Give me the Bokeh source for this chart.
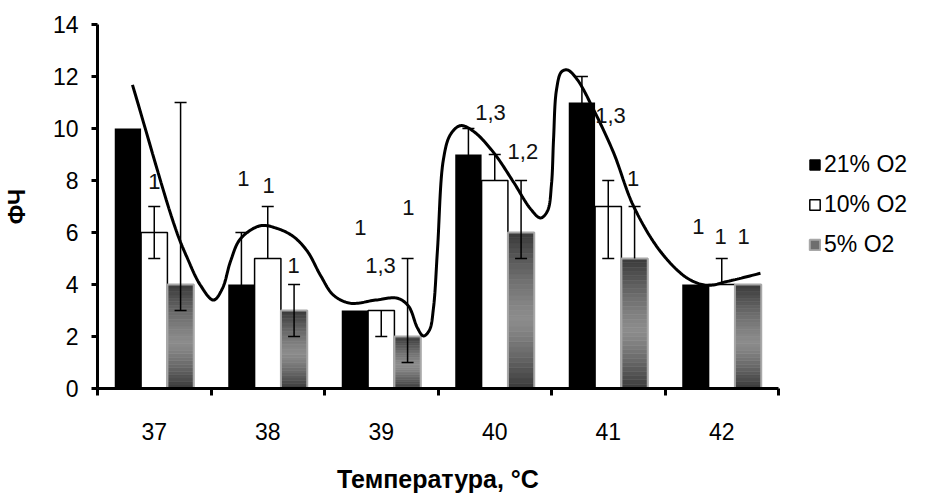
import numpy as np
from bokeh.plotting import figure
from bokeh.layouts import row
from bokeh.models import (FixedTicker, Legend, LegendItem, ColumnDataSource, Range1d)
from bokeh.core.properties import value
from bokeh.embed import file_html
from bokeh.resources import INLINE

# ---------------- data ----------------
categories = ["37", "38", "39", "40", "41", "42"]
series_names = ["21% O2", "10% O2", "5% O2"]
o2_21 = [10, 4, 3, 9, 11, 4]
o2_10 = [6, 5, 3, 8, 7, 4]
o2_5 = [4, 3, 2, 6, 5, 4]

# error bars (plus / minus)
err21_up = [0, 2, 0, 1, 1, 0]
err21_dn = [0, 2, 0, 1, 1, 0]
err10_up = [1, 2, 0, 1, 1, 1]
err10_dn = [1, 0, 1, 0, 2, 0]
err5_up = [7, 1, 3, 2, 2, 0]
err5_dn = [1, 1, 1, 1, 0, 0]

# significance labels (x in category units, y in ФЧ units)
lab_text = ["1", "1", "1", "1", "1", "1,3", "1", "1,3", "1,2", "1,3", "1", "1", "1", "1"]
lab_x = [0.50, 1.286, 1.507, 1.727, 2.317, 2.493, 2.740, 3.463, 3.748, 4.52, 4.72, 5.295, 5.489, 5.692]
lab_y = [7.98, 8.09, 7.79, 4.73, 6.21, 4.73, 6.98, 10.62, 9.10, 10.50, 8.08, 6.22, 5.84, 5.84]

# hand-drawn trend curve
curve_x = [0.308, 0.687, 0.793, 0.907, 1.022, 1.101, 1.172, 1.260, 1.436, 1.586, 1.727, 1.850,
           1.965, 2.079, 2.229, 2.449, 2.643, 2.740, 2.819, 2.872, 2.925, 2.960, 2.996, 3.048,
           3.110, 3.198, 3.313, 3.489, 3.665, 3.815, 3.903, 3.965, 4.000, 4.018, 4.044, 4.088,
           4.141, 4.229, 4.370, 4.546, 4.722, 4.960, 5.198, 5.374, 5.551, 5.841]
curve_y = [11.68, 6.15, 5.00, 3.97, 3.40, 3.85, 4.89, 5.76, 6.26, 6.15, 5.84, 5.27,
           4.35, 3.59, 3.28, 3.40, 3.47, 3.17, 2.33, 2.02, 2.25, 3.09, 5.38, 8.82,
           9.77, 10.11, 9.89, 9.08, 7.94, 6.91, 6.56, 6.83, 7.86, 9.58, 11.49, 12.18,
           12.25, 11.87, 10.73, 9.08, 7.02, 5.27, 4.24, 3.97, 4.12, 4.43]

y_ticks = [0, 2, 4, 6, 8, 10, 12, 14]

FONT = "Liberation Sans"
H = 495

# ---------------- main figure ----------------
p = figure(width=785, height=H, output_backend="svg", toolbar_location=None,
           x_range=Range1d(0, 6), y_range=Range1d(0, 14),
           min_border_left=97, min_border_right=7, min_border_top=24, min_border_bottom=104)
p.outline_line_color = None
p.xgrid.visible = False
p.ygrid.visible = False
p.background_fill_color = "white"

n = len(categories)
centers = np.arange(n) + 0.5
bw = 0.232

# black bars
p.vbar(x=centers - bw, top=o2_21, width=bw, bottom=0, fill_color="black", line_color=None)
# white bars
p.vbar(x=centers, top=o2_10, width=bw, bottom=0, fill_color="white", line_color="black", line_width=1.5)

# gray gradient bars (slices)
N = 30
def gray_at(t):
    peak = 0.45
    d = abs(t - peak) / (peak if t < peak else 1 - peak)
    lo, hi = 0x3a, 0x8c
    v = int(hi - (hi - lo) * d ** 1.3)
    return "#%02x%02x%02x" % (v, v, v)

gx, gb, gt, gc = [], [], [], []
for c, h in zip(centers, o2_5):
    for k in range(N):
        gx.append(c + bw)
        gb.append(h * k / N)
        gt.append(h * (k + 1) / N)
        gc.append(gray_at((k + 0.5) / N))
p.vbar(x=gx, bottom=gb, top=gt, width=bw, fill_color=gc, line_color=gc, line_width=0.6)
p.vbar(x=centers + bw, top=o2_5, width=bw, bottom=0, fill_alpha=0, line_color="#a8a8a8", line_width=2)

# error bars
def draw_err(xs, vals, ups, dns):
    x0, y0, y1 = [], [], []
    cx, cy = [], []
    for x, v, u, d in zip(xs, vals, ups, dns):
        if u == 0 and d == 0:
            continue
        x0.append(x); y0.append(v - d); y1.append(v + u)
        if u > 0:
            cx.append(x); cy.append(v + u)
        if d > 0:
            cx.append(x); cy.append(v - d)
    p.segment(x0=x0, x1=x0, y0=y0, y1=y1, line_color="black", line_width=1.5)
    p.scatter(x=cx, y=cy, marker="dash", size=12, line_color="black", line_width=1.5)

draw_err(centers - bw, o2_21, err21_up, err21_dn)
draw_err(centers, o2_10, err10_up, err10_dn)
draw_err(centers + bw, o2_5, err5_up, err5_dn)

# smooth curve (centripetal Catmull-Rom through read points)
def catmull_rom(xs, ys, sx=4.33, n_seg=16, alpha=0.5):
    P = np.column_stack([np.asarray(xs) * sx, np.asarray(ys)])
    P = np.vstack([2 * P[0] - P[1], P, 2 * P[-1] - P[-2]])
    out = []
    for i in range(1, len(P) - 2):
        P0, P1, P2, P3 = P[i - 1], P[i], P[i + 1], P[i + 2]
        def tj(ti, a, b):
            return ti + max(np.linalg.norm(b - a), 1e-6) ** alpha
        t0 = 0.0
        t1 = tj(t0, P0, P1)
        t2 = tj(t1, P1, P2)
        t3 = tj(t2, P2, P3)
        t = np.linspace(t1, t2, n_seg, endpoint=False)[:, None]
        A1 = (t1 - t) / (t1 - t0) * P0 + (t - t0) / (t1 - t0) * P1
        A2 = (t2 - t) / (t2 - t1) * P1 + (t - t1) / (t2 - t1) * P2
        A3 = (t3 - t) / (t3 - t2) * P2 + (t - t2) / (t3 - t2) * P3
        B1 = (t2 - t) / (t2 - t0) * A1 + (t - t0) / (t2 - t0) * A2
        B2 = (t3 - t) / (t3 - t1) * A2 + (t - t1) / (t3 - t1) * A3
        C = (t2 - t) / (t2 - t1) * B1 + (t - t1) / (t2 - t1) * B2
        out.append(C)
    out.append(P[-2][None, :])
    R = np.vstack(out)
    return R[:, 0] / sx, R[:, 1]

cx_s, cy_s = catmull_rom(curve_x, curve_y)
p.line(cx_s, cy_s, line_color="black", line_width=3)

# significance labels
p.text(x=lab_x, y=lab_y, text=lab_text, text_align="center", text_baseline="middle",
       text_font=value(FONT), text_font_size="22px", text_color="#111111")

# ---------------- axes ----------------
xa = p.xaxis[0]
xa.ticker = FixedTicker(ticks=list(centers), minor_ticks=list(range(0, n + 1)))
xa.major_label_overrides = {float(c): lab for c, lab in zip(centers, categories)}
xa.major_tick_out = 0
xa.major_tick_in = 0
xa.minor_tick_out = 7
xa.minor_tick_in = 0
xa.minor_tick_line_width = 3
xa.minor_tick_line_color = "black"
xa.axis_line_width = 3
xa.axis_line_color = "black"
xa.major_label_text_font = FONT
xa.major_label_text_font_size = "23px"
xa.major_label_text_color = "black"
xa.major_label_standoff = 27
xa.axis_label = "Температура, °C"
xa.axis_label_text_font = FONT
xa.axis_label_text_font_style = "bold"
xa.axis_label_text_font_size = "25px"
xa.axis_label_text_color = "black"
xa.axis_label_standoff = 22

ya = p.yaxis[0]
ya.ticker = FixedTicker(ticks=y_ticks, minor_ticks=[])
ya.major_tick_out = 6
ya.major_tick_in = 0
ya.major_tick_line_width = 3
ya.major_tick_line_color = "black"
ya.minor_tick_out = 0
ya.minor_tick_in = 0
ya.axis_line_width = 3
ya.axis_line_color = "black"
ya.major_label_text_font = FONT
ya.major_label_text_font_size = "23px"
ya.major_label_text_color = "black"
ya.major_label_standoff = 13
ya.axis_label = "ФЧ"
ya.axis_label_text_font = FONT
ya.axis_label_text_font_style = "bold"
ya.axis_label_text_font_size = "23px"
ya.axis_label_text_color = "black"
ya.axis_label_standoff = 20

# ---------------- legend (separate panel to the right) ----------------
LW = 927 - 785
q = figure(width=LW, height=H, output_backend="svg", toolbar_location=None,
           x_range=Range1d(0, 1), y_range=Range1d(0, 1),
           min_border_left=0, min_border_right=0, min_border_top=0, min_border_bottom=0)
q.axis.visible = False
q.xgrid.visible = False
q.ygrid.visible = False
q.outline_line_color = None

nan_src = lambda: ColumnDataSource(dict(x=[np.nan], top=[np.nan]))
r1 = q.vbar(x="x", top="top", width=0.2, source=nan_src(), fill_color="black", line_color="black")
r2 = q.vbar(x="x", top="top", width=0.2, source=nan_src(), fill_color="white", line_color="black", line_width=1.5)
r3 = q.vbar(x="x", top="top", width=0.2, source=nan_src(), fill_color="#6e6e6e", line_color="#a8a8a8", line_width=2)
legend = Legend(items=[LegendItem(label=series_names[0], renderers=[r1]),
                       LegendItem(label=series_names[1], renderers=[r2]),
                       LegendItem(label=series_names[2], renderers=[r3])],
                location=(23, 130), orientation="vertical",
                glyph_width=13, glyph_height=13, label_height=22, spacing=13,
                label_standoff=3, padding=0, margin=0,
                label_text_font=FONT, label_text_font_size="23px", label_text_color="black",
                border_line_color=None, background_fill_alpha=0)
q.add_layout(legend, "center")

layout = row(p, q, spacing=0)
open("out.html", "w").write(file_html(layout, INLINE))
